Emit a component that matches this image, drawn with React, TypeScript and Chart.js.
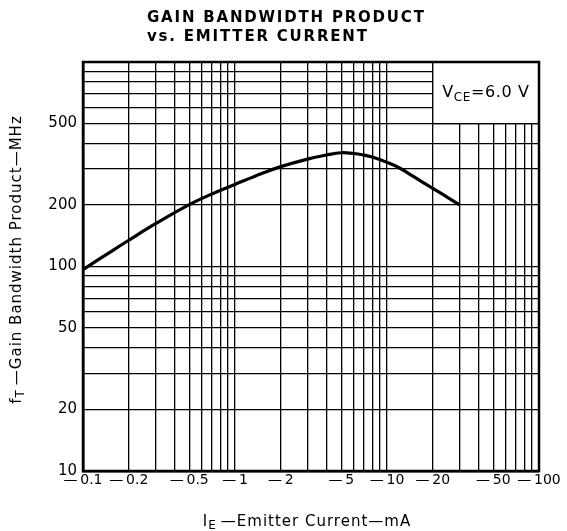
import { useEffect, useRef } from 'react';
import { Chart, registerables } from 'chart.js';

Chart.register(...registerables);

// Emitter current (mA, magnitude) and gain-bandwidth product (MHz)
const currentMA = [0.1, 0.15, 0.2, 0.3, 0.5, 0.7, 1, 1.5, 2, 3, 4, 5, 6, 7, 8, 10, 12, 15, 20, 25, 30];
const gbwMHz = [96.6, 117.3, 134.4, 161.9, 200.7, 225.8, 252, 284.8, 307.8, 335, 351, 360, 357, 351, 343, 323, 304, 275, 241, 218, 200];

const xGridValues = [0.1, 0.2, 0.3, 0.4, 0.5, 0.6, 0.7, 0.8, 0.9, 1, 2, 3, 4, 5, 6, 7, 8, 9, 10, 20, 30, 40, 50, 60, 70, 80, 90, 100];
const xTickLabels = [0.1, 0.2, 0.5, 1, 2, 5, 10, 20, 50, 100];
const yGridValues = [10, 20, 30, 40, 50, 60, 70, 80, 90, 100, 200, 300, 400, 500, 600, 700, 800, 900, 1000];
const yTickLabels = [10, 20, 50, 100, 200, 500];

const titleLines = ['GAIN BANDWIDTH PRODUCT', 'vs. EMITTER CURRENT'];
const FONT = '"DejaVu Sans", "Liberation Sans", sans-serif';

type Part = { text: string; size: number; dy: number };

function drawRich(ctx: CanvasRenderingContext2D, parts: Part[], cx: number, baseline: number, spacing: number) {
  let total = 0;
  const widths: number[] = [];
  (ctx as any).letterSpacing = spacing + 'px';
  for (const p of parts) {
    ctx.font = `${p.size}px ${FONT}`;
    const w = ctx.measureText(p.text).width;
    widths.push(w);
    total += w;
  }
  let x = cx - total / 2;
  ctx.textAlign = 'left';
  ctx.textBaseline = 'alphabetic';
  parts.forEach((p, i) => {
    ctx.font = `${p.size}px ${FONT}`;
    ctx.fillText(p.text, x, baseline + p.dy);
    x += widths[i];
  });
  (ctx as any).letterSpacing = '0px';
}

const decorPlugin = {
  id: 'decor',
  beforeDraw(chart: any) {
    const ctx = chart.ctx as CanvasRenderingContext2D;
    ctx.save();
    ctx.fillStyle = '#fff';
    ctx.fillRect(0, 0, chart.width, chart.height);
    ctx.restore();
  },
  beforeDatasetsDraw(chart: any) {
    const ctx = chart.ctx as CanvasRenderingContext2D;
    const { left, right, top, bottom } = chart.chartArea;
    const xs = chart.scales.x;
    const ys = chart.scales.y;
    const bx = xs.getPixelForValue(20);
    const by = ys.getPixelForValue(500);
    ctx.save();
    // clear grid inside the condition box
    ctx.fillStyle = '#fff';
    ctx.fillRect(bx, top, right - bx, by - top);
    ctx.strokeStyle = '#000';
    ctx.lineWidth = 1.3;
    ctx.beginPath();
    ctx.moveTo(bx, top);
    ctx.lineTo(bx, by);
    ctx.lineTo(right, by);
    ctx.stroke();
    // frame
    ctx.lineWidth = 2.5;
    ctx.strokeRect(left, top, right - left, bottom - top);
    // condition text
    ctx.fillStyle = '#000';
    const cx = (bx + right) / 2;
    drawRich(
      ctx,
      [
        { text: 'V', size: 16, dy: 0 },
        { text: 'CE', size: 12, dy: 4 },
        { text: '=6.0 V', size: 16, dy: 0 },
      ],
      cx,
      97,
      0.6
    );
    ctx.restore();
  },
  afterDraw(chart: any) {
    const ctx = chart.ctx as CanvasRenderingContext2D;
    const { left, right, top, bottom } = chart.chartArea;
    ctx.save();
    ctx.fillStyle = '#000';
    // title
    ctx.font = `bold 15px ${FONT}`;
    (ctx as any).letterSpacing = '1.8px';
    ctx.textAlign = 'left';
    ctx.textBaseline = 'middle';
    ctx.fillText(titleLines[0], 147, 18.5);
    ctx.fillText(titleLines[1], 147, 37);
    (ctx as any).letterSpacing = '0px';
    // x title
    drawRich(
      ctx,
      [
        { text: 'I', size: 15, dy: 0 },
        { text: 'E', size: 12, dy: 3 },
        { text: '\u2009\u2014Emitter Current\u2014mA', size: 15, dy: 0 },
      ],
      (left + right) / 2 - 4,
      526,
      1
    );
    // y title
    ctx.translate(20.5, (top + bottom) / 2 - 7);
    ctx.rotate(-Math.PI / 2);
    drawRich(
      ctx,
      [
        { text: 'f', size: 15, dy: 0 },
        { text: 'T', size: 12, dy: 3 },
        { text: '\u2009\u2014Gain Bandwidth Product\u2014MHz', size: 15, dy: 0 },
      ],
      0,
      0,
      1
    );
    ctx.restore();
  },
};

export default function App() {
  const canvasRef = useRef<HTMLCanvasElement | null>(null);

  useEffect(() => {
    document.body.style.margin = '0';
    const canvas = canvasRef.current;
    if (!canvas) return;
    Chart.defaults.font.family = FONT;
    Chart.defaults.color = '#000';

    const chart = new Chart(canvas, {
      type: 'scatter',
      data: {
        datasets: [
          {
            data: currentMA.map((x, i) => ({ x, y: gbwMHz[i] })),
            showLine: true,
            borderColor: '#000',
            borderWidth: 3.2,
            pointRadius: 0,
            tension: 0.4,
            fill: false,
          },
        ],
      },
      options: {
        animation: false,
        responsive: false,
        layout: { padding: { left: 0, right: 28, top: 62, bottom: 0 } },
        plugins: {
          legend: { display: false },
          title: { display: false },
          tooltip: { enabled: false },
        },
        scales: {
          x: {
            type: 'logarithmic',
            min: 0.1,
            max: 100,
            afterBuildTicks: (scale: any) => {
              scale.ticks = xGridValues.map((v) => ({ value: v }));
            },
            afterFit: (scale: any) => {
              scale.height = 60;
            },
            grid: { color: '#000', lineWidth: 1.3, drawTicks: false },
            border: { display: true, color: '#000', width: 2.5 },
            ticks: {
              autoSkip: false,
              maxRotation: 0,
              minRotation: 0,
              padding: 1,
              font: { size: 14 },
              color: '#000',
              callback: (value: any) =>
                xTickLabels.includes(Number(value)) ? '\u2014\u2009' + String(Number(value)) : '',
            },
          },
          y: {
            type: 'logarithmic',
            min: 10,
            max: 1000,
            afterBuildTicks: (scale: any) => {
              scale.ticks = yGridValues.map((v) => ({ value: v }));
            },
            afterFit: (scale: any) => {
              scale.width = 83;
            },
            grid: { color: '#000', lineWidth: 1.3, drawTicks: false },
            border: { display: true, color: '#000', width: 2.5 },
            ticks: {
              autoSkip: false,
              padding: 6,
              font: { size: 15 },
              color: '#000',
              callback: (value: any) =>
                yTickLabels.includes(Number(value)) ? String(Number(value)) : '',
            },
          },
        },
      },
      plugins: [decorPlugin],
    } as any);

    return () => {
      chart.destroy();
    };
  }, []);

  return (
    <div style={{ width: 567, height: 531, position: 'relative' }}>
      <canvas ref={canvasRef} width={567} height={531} style={{ display: 'block' }} />
    </div>
  );
}
